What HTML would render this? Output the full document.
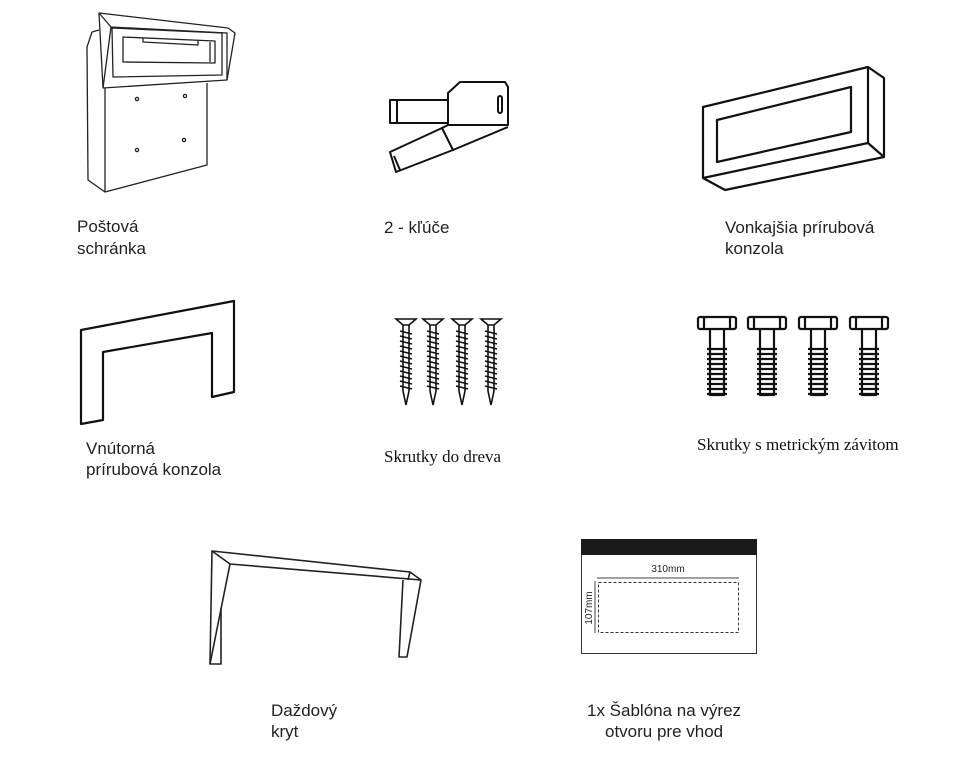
<!DOCTYPE html>
<html><head><meta charset="utf-8"><style>
body{margin:0;background:#fff;}
svg{display:block}
.s{font-family:"Liberation Sans",sans-serif;font-size:17px;fill:#222}
.r{font-family:"Liberation Serif",serif;font-size:17px;fill:#111}
</style></head><body>
<svg width="965" height="766" viewBox="0 0 965 766" xmlns="http://www.w3.org/2000/svg">
<defs>
<g id="ws" fill="none" stroke="#111" stroke-width="1.6">
<path d="M-10,0 H10 L3,6 H-3 Z"/>
<path d="M-3,6 V72 L0,86 L3,72 V6"/>
<path d="M-6,12 L6,15 M-6,17 L6,20 M-6,22 L6,25 M-6,27 L6,30 M-6,32 L6,35 M-6,37 L6,40 M-6,42 L6,45 M-6,47 L6,50 M-6,52 L6,55 M-6,57 L6,60 M-6,62 L6,65 M-6,67 L6,70"/>
</g>
<g id="mb" fill="none" stroke="#111" stroke-width="2.2" stroke-linejoin="round">
<rect x="-19" y="0" width="38" height="12" rx="2"/>
<path d="M-13,0 V12 M13,0 V12"/>
<path d="M-7,12 V78 H7 V12"/>
<path d="M-10,32 H10 M-10,37 H10 M-10,42 H10 M-10,47 H10 M-10,52 H10 M-10,57 H10 M-10,62 H10 M-10,67 H10 M-10,72 H10 M-10,77 H10"/>
</g>
</defs>
<g fill="none" stroke="#222" stroke-width="1.3" stroke-linejoin="round">
<!-- mailbox -->
<path d="M92,32 L87,47 L88,180 L105,192 L207,165 L207,83"/>
<path d="M105,88 L105,192"/>
<path d="M92,32 L99,30"/>
<path d="M99,13 L228,28 L235,33 L227,80 L103,88 Z"/>
<path d="M99,13 L111,27 L227,33 L227,80"/>
<path d="M111,27 L103,88"/>
<path d="M112,28 L222,33 L222,75 L113,77 Z"/>
<path d="M123,37 L215,41 L215,63 L123,62 Z"/>
<path d="M143,38 V42 L198,45 V41"/>
<path d="M210,42 V62"/>
<circle cx="137" cy="99" r="1.6"/><circle cx="185" cy="96" r="1.6"/>
<circle cx="137" cy="150" r="1.6"/><circle cx="184" cy="140" r="1.6"/>
</g>
<!-- keys -->
<g fill="none" stroke="#111" stroke-width="2" stroke-linejoin="round">
<path d="M390,100 H448 V123 H390 Z M397,100 V123"/>
<path d="M448,93 L460,82 H505 L508,87 V125 H448 Z"/>
<rect x="498" y="96" width="4" height="17" rx="2"/>
<path d="M390,152 L442,128 L453,150 L396,172 Z M394,156 L400,170"/>
<path d="M442,128 L448,125 M453,150 L508,127"/>
</g>
<!-- outer flange -->
<g fill="none" stroke="#111" stroke-width="2.2" stroke-linejoin="round">
<path d="M703,107 L868,67 L868,143 L703,178 Z"/>
<path d="M868,67 L884,78 L884,157 L725,190 L703,178"/>
<path d="M868,143 L884,157"/>
<path d="M717,120 L851,87 L851,132 L717,162 Z"/>
<!-- inner flange -->
<path d="M81,330 L234,301 L234,392 L212,397 L212,333 L103,352 L103,420 L81,424 Z"/>
</g>
<use href="#ws" x="406" y="319"/><use href="#ws" x="433" y="319"/>
<use href="#ws" x="462" y="319"/><use href="#ws" x="491" y="319"/>
<use href="#mb" x="717" y="317"/><use href="#mb" x="767" y="317"/>
<use href="#mb" x="818" y="317"/><use href="#mb" x="869" y="317"/>
<!-- rain cover -->
<g fill="none" stroke="#222" stroke-width="1.6" stroke-linejoin="round">
<path d="M212,551 L410,572 L421,580 L230,564 Z"/>
<path d="M212,551 L210,664 L221,664 L221,608"/>
<path d="M230,564 L210,664"/>
<path d="M403,580 L399,657 L407,657 L421,580"/>
<path d="M410,572 L408,580"/>
</g>
<!-- template -->
<rect x="581.5" y="539.5" width="175" height="114" fill="#fff" stroke="#333" stroke-width="1"/>
<rect x="581" y="539" width="176" height="16" fill="#1a1a1a"/>
<line x1="597" y1="578" x2="739" y2="578" stroke="#444" stroke-width="1"/>
<text x="668" y="572" text-anchor="middle" font-family="Liberation Sans,sans-serif" font-size="10" fill="#222">310mm</text>
<rect x="598.5" y="582.5" width="140" height="50" fill="none" stroke="#333" stroke-width="1" stroke-dasharray="3,2"/>
<line x1="595" y1="581" x2="595" y2="633" stroke="#444" stroke-width="1"/>
<text transform="translate(592,608) rotate(-90)" text-anchor="middle" font-family="Liberation Sans,sans-serif" font-size="10" fill="#222">107mm</text>
<!-- labels -->
<text class="s" x="77" y="232">Poštová</text>
<text class="s" x="77" y="254">schránka</text>
<text class="s" x="384" y="233">2 - kľúče</text>
<text class="s" x="725" y="233">Vonkajšia prírubová</text>
<text class="s" x="725" y="254">konzola</text>
<text class="s" x="86" y="454">Vnútorná</text>
<text class="s" x="86" y="475">prírubová konzola</text>
<text class="r" x="384" y="462">Skrutky do dreva</text>
<text class="r" x="697" y="450">Skrutky s metrickým závitom</text>
<text class="s" x="271" y="716">Daždový</text>
<text class="s" x="271" y="737">kryt</text>
<text class="s" x="587" y="716">1x Šablóna na výrez</text>
<text class="s" x="605" y="737">otvoru pre vhod</text>
</svg>
</body></html>
